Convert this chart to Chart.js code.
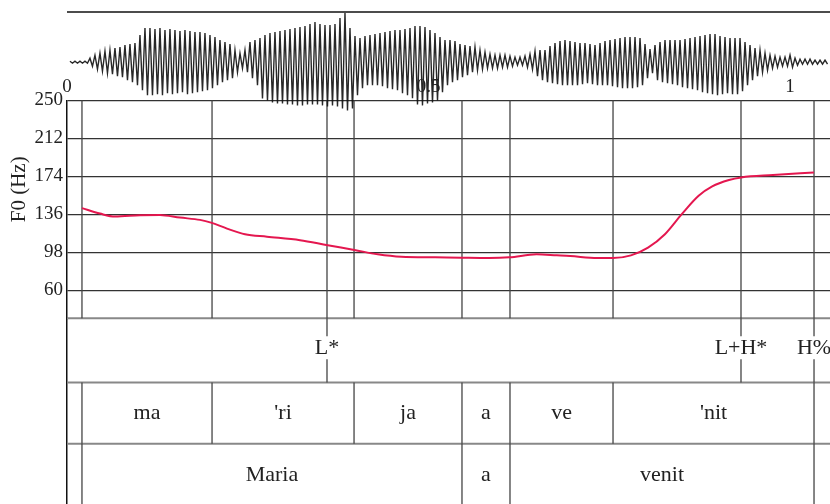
<!DOCTYPE html>
<html>
<head>
<meta charset="utf-8">
<script src="https://cdn.jsdelivr.net/npm/chart.js@4"></script>
<style>
  html, body { margin: 0; padding: 0; background: #fff; overflow: hidden; }
</style>
</head>
<body>
<canvas id="pitchChart" width="830" height="508"></canvas>
<script>
// time axis (s)
const timeMax = 1.0553;
const timeTicks = [0, 0.5, 1];
const timeTickLabels = ['0', '0.5', '1'];

// F0 contour
const f0Ticks = [60, 98, 136, 174, 212, 250];
const f0Times = [0.0207, 0.0456, 0.0664, 0.1010, 0.1286, 0.1563, 0.1840, 0.1992, 0.2213, 0.2462,
                 0.2766, 0.3223, 0.3606, 0.3975, 0.4297, 0.4625, 0.5090, 0.5456, 0.5837, 0.6120,
                 0.6494, 0.6775, 0.6961, 0.7335, 0.7552, 0.7800, 0.8036, 0.8270, 0.8503, 0.8736,
                 0.8924, 0.9156, 0.9325, 0.9765, 1.0330];
const f0Values = [142.2, 136.7, 133.7, 135.1, 135.4, 132.7, 130.4, 127.7, 121.7, 116.0,
                  113.6, 110.1, 105.0, 100.3, 96.0, 93.5, 92.9, 92.5, 92.2, 92.9,
                  95.9, 94.9, 94.2, 92.2, 92.2, 94.9, 102.6, 116.0, 136.1, 154.5,
                  163.9, 170.3, 172.9, 175.3, 177.9];

// waveform envelope, one sample per period
const waveStart = 0.0041;
const waveStep = 0.006916;
const waveHigh = [
  0.02,0.02,0.02,0.02,0.08,0.14,0.18,0.22,0.24,0.28,
  0.30,0.34,0.36,0.38,0.54,0.68,0.68,0.66,0.68,0.64,
  0.66,0.64,0.62,0.64,0.62,0.60,0.60,0.58,0.54,0.50,
  0.44,0.40,0.36,0.24,0.18,0.24,0.40,0.44,0.48,0.54,
  0.58,0.60,0.62,0.64,0.66,0.68,0.70,0.72,0.76,0.80,
  0.76,0.74,0.74,0.76,0.88,0.98,0.68,0.52,0.48,0.52,
  0.54,0.56,0.58,0.60,0.62,0.64,0.64,0.66,0.68,0.72,
  0.72,0.70,0.64,0.58,0.50,0.44,0.44,0.42,0.36,0.34,
  0.32,0.30,0.24,0.20,0.16,0.14,0.14,0.14,0.12,0.10,
  0.10,0.12,0.16,0.22,0.24,0.24,0.32,0.38,0.42,0.44,
  0.42,0.40,0.38,0.38,0.36,0.34,0.38,0.42,0.44,0.46,
  0.48,0.50,0.50,0.50,0.48,0.36,0.26,0.34,0.40,0.44,
  0.44,0.44,0.44,0.46,0.48,0.50,0.52,0.54,0.56,0.56,
  0.52,0.50,0.48,0.48,0.48,0.40,0.34,0.28,0.24,0.18,
  0.14,0.12,0.10,0.10,0.14,0.08,0.06,0.06,0.06,0.04,
  0.04,0.04];
const waveLow = [
  -0.02,-0.02,-0.02,-0.02,-0.08,-0.14,-0.18,-0.22,-0.24,-0.28,
  -0.30,-0.36,-0.40,-0.46,-0.56,-0.66,-0.66,-0.64,-0.66,-0.62,
  -0.64,-0.62,-0.60,-0.64,-0.62,-0.60,-0.58,-0.56,-0.52,-0.46,
  -0.40,-0.36,-0.32,-0.20,-0.12,-0.20,-0.32,-0.46,-0.72,-0.76,
  -0.80,-0.82,-0.82,-0.84,-0.84,-0.86,-0.86,-0.84,-0.84,-0.84,
  -0.86,-0.88,-0.86,-0.88,-0.92,-0.96,-0.92,-0.66,-0.52,-0.46,
  -0.46,-0.46,-0.48,-0.52,-0.54,-0.56,-0.62,-0.66,-0.72,-0.84,
  -0.86,-0.82,-0.80,-0.76,-0.60,-0.46,-0.40,-0.36,-0.30,-0.26,
  -0.20,-0.16,-0.14,-0.12,-0.12,-0.12,-0.10,-0.10,-0.08,-0.06,
  -0.06,-0.10,-0.14,-0.28,-0.36,-0.40,-0.42,-0.44,-0.46,-0.46,
  -0.46,-0.46,-0.44,-0.42,-0.44,-0.46,-0.46,-0.46,-0.48,-0.50,
  -0.52,-0.52,-0.52,-0.50,-0.46,-0.32,-0.22,-0.36,-0.40,-0.42,
  -0.44,-0.46,-0.50,-0.52,-0.54,-0.56,-0.60,-0.62,-0.64,-0.66,
  -0.64,-0.62,-0.64,-0.64,-0.58,-0.46,-0.36,-0.28,-0.20,-0.16,
  -0.12,-0.10,-0.08,-0.08,-0.10,-0.06,-0.04,-0.04,-0.04,-0.04,
  -0.04,-0.04];

// annotation tiers
const tones = ['L*', 'L+H*', 'H%'];
const toneTimes = [0.3596, 0.9322, 1.0332];
const syllables = ['ma', "'ri", 'ja', 'a', 've', "'nit"];
const syllableBounds = [0.0207, 0.2006, 0.3970, 0.5463, 0.6127, 0.7552, 1.0332];
const words = ['Maria', 'a', 'venit'];
const wordBounds = [0.0207, 0.5463, 0.6127, 1.0332];

const SERIF = '"Liberation Serif", "DejaVu Serif", serif';
const TEXT_COLOR = '#222';
const AXIS_WIDTH = 67;

// waveform as alternating peaks / troughs
const wavePoints = [];
waveHigh.forEach((hi, i) => {
    const t = waveStart + i * waveStep;
    wavePoints.push({ x: t, y: hi });
    wavePoints.push({ x: t + waveStep / 2, y: waveLow[i] });
});

function drawLine(ctx, x1, y1, x2, y2, color, width) {
    ctx.beginPath();
    ctx.strokeStyle = color;
    ctx.lineWidth = width;
    ctx.moveTo(x1, y1);
    ctx.lineTo(x2, y2);
    ctx.stroke();
}

const tierPlugin = {
    id: 'tiers',
    beforeDatasetsDraw(chart) {
        const { ctx, chartArea, scales } = chart;
        const x = scales.x;
        ctx.save();
        // top of waveform panel
        drawLine(ctx, chartArea.left, scales.yWave.top, chartArea.right, scales.yWave.top, '#111', 1.5);

        // tier separators
        [scales.yTone.top, scales.ySyl.top, scales.yWord.top].forEach(y => {
            drawLine(ctx, chartArea.left, y, chartArea.right, y, '#888', 2);
        });

        // boundaries in F0 panel
        const f0 = scales.yF0;
        const f0Marks = [...new Set(syllableBounds.concat(toneTimes))];
        f0Marks.forEach(t => {
            const px = x.getPixelForValue(t);
            drawLine(ctx, px, f0.top, px, f0.bottom, '#444', 1.3);
        });

        // tone tier: tick broken around label
        const tone = scales.yTone;
        const mid = (tone.top + tone.bottom) / 2 - 2;
        toneTimes.forEach(t => {
            const px = x.getPixelForValue(t);
            drawLine(ctx, px, tone.top, px, mid - 12, '#444', 1.3);
            drawLine(ctx, px, mid + 11, px, tone.bottom, '#444', 1.3);
        });

        const syl = scales.ySyl;
        syllableBounds.forEach(t => {
            const px = x.getPixelForValue(t);
            drawLine(ctx, px, syl.top, px, syl.bottom, '#444', 1.3);
        });

        const wd = scales.yWord;
        wordBounds.forEach(t => {
            const px = x.getPixelForValue(t);
            drawLine(ctx, px, wd.top, px, wd.bottom, '#444', 1.3);
        });
        ctx.restore();
    },
    afterDatasetsDraw(chart) {
        const { ctx, scales } = chart;
        const x = scales.x;
        ctx.save();
        ctx.fillStyle = TEXT_COLOR;
        ctx.textAlign = 'center';
        ctx.textBaseline = 'middle';

        // time labels under waveform
        ctx.font = '19px ' + SERIF;
        timeTicks.forEach((t, i) => {
            ctx.fillText(timeTickLabels[i], x.getPixelForValue(t), scales.yF0.top - 13);
        });

        ctx.font = '22px ' + SERIF;
        const tone = scales.yTone;
        const toneMid = (tone.top + tone.bottom) / 2 - 2;
        tones.forEach((lab, i) => {
            ctx.fillText(lab, x.getPixelForValue(toneTimes[i]), toneMid);
        });

        const syl = scales.ySyl;
        syllables.forEach((lab, i) => {
            const c = (syllableBounds[i] + syllableBounds[i + 1]) / 2;
            ctx.fillText(lab, x.getPixelForValue(c), (syl.top + syl.bottom) / 2);
        });

        const wd = scales.yWord;
        words.forEach((lab, i) => {
            const c = (wordBounds[i] + wordBounds[i + 1]) / 2;
            ctx.fillText(lab, x.getPixelForValue(c), (wd.top + wd.bottom) / 2 - 1);
        });

        // y title
        const f0 = scales.yF0;
        ctx.font = '21px ' + SERIF;
        ctx.translate(19, (f0.top + f0.bottom) / 2 - 20);
        ctx.rotate(-Math.PI / 2);
        ctx.fillText('F0 (Hz)', 0, 0);
        ctx.restore();
    }
};

// same width for every stacked panel, no label overflow padding
function fixedFit(scale) {
    scale.width = AXIS_WIDTH;
    scale.paddingTop = 0;
    scale.paddingBottom = 0;
}

const tierAxis = (weight) => ({
    type: 'linear',
    position: 'left',
    stack: 'panels',
    stackWeight: weight,
    min: 0,
    max: 1,
    afterFit: fixedFit,
    ticks: { display: false },
    grid: { display: false, drawTicks: false },
    border: { display: true, color: '#111', width: 1.5 }
});

const ctx = document.getElementById('pitchChart').getContext('2d');
new Chart(ctx, {
    type: 'line',
    data: {
        datasets: [{
            label: 'waveform',
            data: wavePoints,
            yAxisID: 'yWave',
            borderColor: 'rgba(15, 15, 15, 0.9)',
            borderWidth: 1.4,
            pointRadius: 0,
            tension: 0,
            clip: false
        }, {
            label: 'F0',
            data: f0Times.map((t, i) => ({ x: t, y: f0Values[i] })),
            yAxisID: 'yF0',
            borderColor: '#e4174f',
            borderWidth: 2,
            pointRadius: 0,
            cubicInterpolationMode: 'monotone'
        }]
    },
    options: {
        responsive: false,
        animation: false,
        events: [],
        layout: { autoPadding: false, padding: { top: 12, left: 0, right: 0, bottom: 0 } },
        plugins: {
            legend: { display: false },
            tooltip: { enabled: false }
        },
        scales: {
            x: { type: 'linear', min: 0, max: timeMax, display: false },
            yWord: tierAxis(64),
            ySyl: tierAxis(61),
            yTone: tierAxis(64),
            yF0: {
                type: 'linear',
                position: 'left',
                stack: 'panels',
                stackWeight: 217,
                min: 32,
                max: 250,
                afterBuildTicks: (scale) => {
                    scale.ticks = f0Ticks.map(v => ({ value: v }));
                },
                afterFit: fixedFit,
                ticks: {
                    autoSkip: false,
                    color: TEXT_COLOR,
                    padding: 4,
                    font: { family: SERIF, size: 19 },
                    callback: (v) => String(v)
                },
                grid: { color: '#333', lineWidth: 1.2, drawTicks: false },
                border: { display: true, color: '#111', width: 1.5 }
            },
            yWave: {
                type: 'linear',
                position: 'left',
                stack: 'panels',
                stackWeight: 88,
                min: -0.76,
                max: 1,
                afterFit: fixedFit,
                ticks: { display: false },
                grid: { display: false, drawTicks: false },
                border: { display: false }
            }
        }
    },
    plugins: [tierPlugin]
});
</script>
</body>
</html>
